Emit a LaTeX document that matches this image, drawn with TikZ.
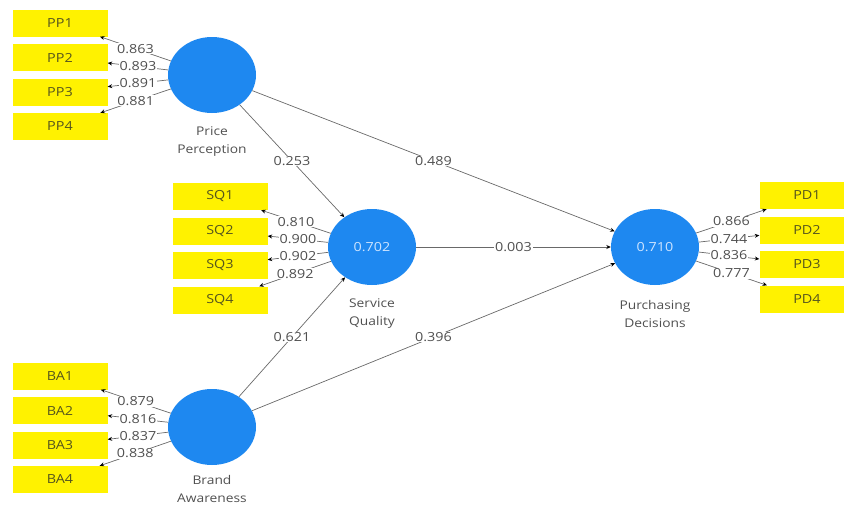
\documentclass[tikz,border=0pt]{standalone}
\usepackage{fontspec}
\setmainfont[FakeStretch=1.15]{Open Sans}
\usepackage{tikz}
\usetikzlibrary{shapes.geometric,arrows.meta}
\definecolor{lvblue}{RGB}{30,136,240}
\definecolor{lvtext}{RGB}{205,228,255}
\definecolor{boxtext}{RGB}{85,85,30}
\definecolor{coeftext}{RGB}{80,80,80}
\definecolor{linkgray}{RGB}{105,105,105}

\tikzset{
  latent/.style={ellipse,fill=lvblue,minimum width=88pt,minimum height=76pt,inner sep=0pt,text=lvtext},
  indicator/.style={rectangle,fill=yellow,minimum width=95pt,minimum height=27pt,text=boxtext},
  link/.style={draw=linkgray,line width=0.7pt,-{Stealth[length=4.5pt,width=4pt]},arrows={[color=black]}},
  coef/.style={fill=white,inner sep=0.8pt,text=coeftext},
  lvname/.style={align=center,text=coeftext,font=\fontsize{12}{18}\selectfont}
}

\begin{document}
\begin{tikzpicture}[x=1pt,y=-1pt,font=\fontsize{12.5}{14}\selectfont]
\useasboundingbox (0,0) rectangle (844,506);
% latent variables
\node[latent] (pp) at (212,75) {};
\node[latent] (sq) at (372,247) {0.702};
\node[latent] (pd) at (655,247) {0.710};
\node[latent] (ba) at (212,427) {};
\node[lvname] at (212,142) {Price\\Perception};
\node[lvname] at (372,314) {Service\\Quality};
\node[lvname] at (655,314) {Purchasing\\Decisions};
\node[lvname] at (212,489) {Brand\\Awareness};
% indicators
\foreach \i in {1,...,4}{
  \node[indicator] (pp\i) at (60,{23+34.5*(\i-1)}) {PP\i};
  \node[indicator] (sq\i) at (220,{196.5+34.5*(\i-1)}) {SQ\i};
  \node[indicator] (ba\i) at (60,{376+34.5*(\i-1)}) {BA\i};
  \node[indicator] (pd\i) at (807,{195.5+34.5*(\i-1)}) {PD\i};
}
% outer loadings
\foreach \i/\v in {1/0.863,2/0.893,3/0.891,4/0.881}
  \draw[link] (pp) -- node[coef]{\v} (pp\i);
\foreach \i/\v in {1/0.810,2/0.900,3/0.902,4/0.892}
  \draw[link] (sq) -- node[coef]{\v} (sq\i);
\foreach \i/\v in {1/0.879,2/0.816,3/0.837,4/0.838}
  \draw[link] (ba) -- node[coef]{\v} (ba\i);
\foreach \i/\v in {1/0.866,2/0.744,3/0.836,4/0.777}
  \draw[link] (pd) -- node[coef]{\v} (pd\i);
% path coefficients
\draw[link] (pp) -- node[coef]{0.253} (sq);
\draw[link] (pp) -- node[coef]{0.489} (pd);
\draw[link] (sq) -- node[coef]{0.003} (pd);
\draw[link] (ba) -- node[coef]{0.621} (sq);
\draw[link] (ba) -- node[coef]{0.396} (pd);
\end{tikzpicture}
\end{document}
